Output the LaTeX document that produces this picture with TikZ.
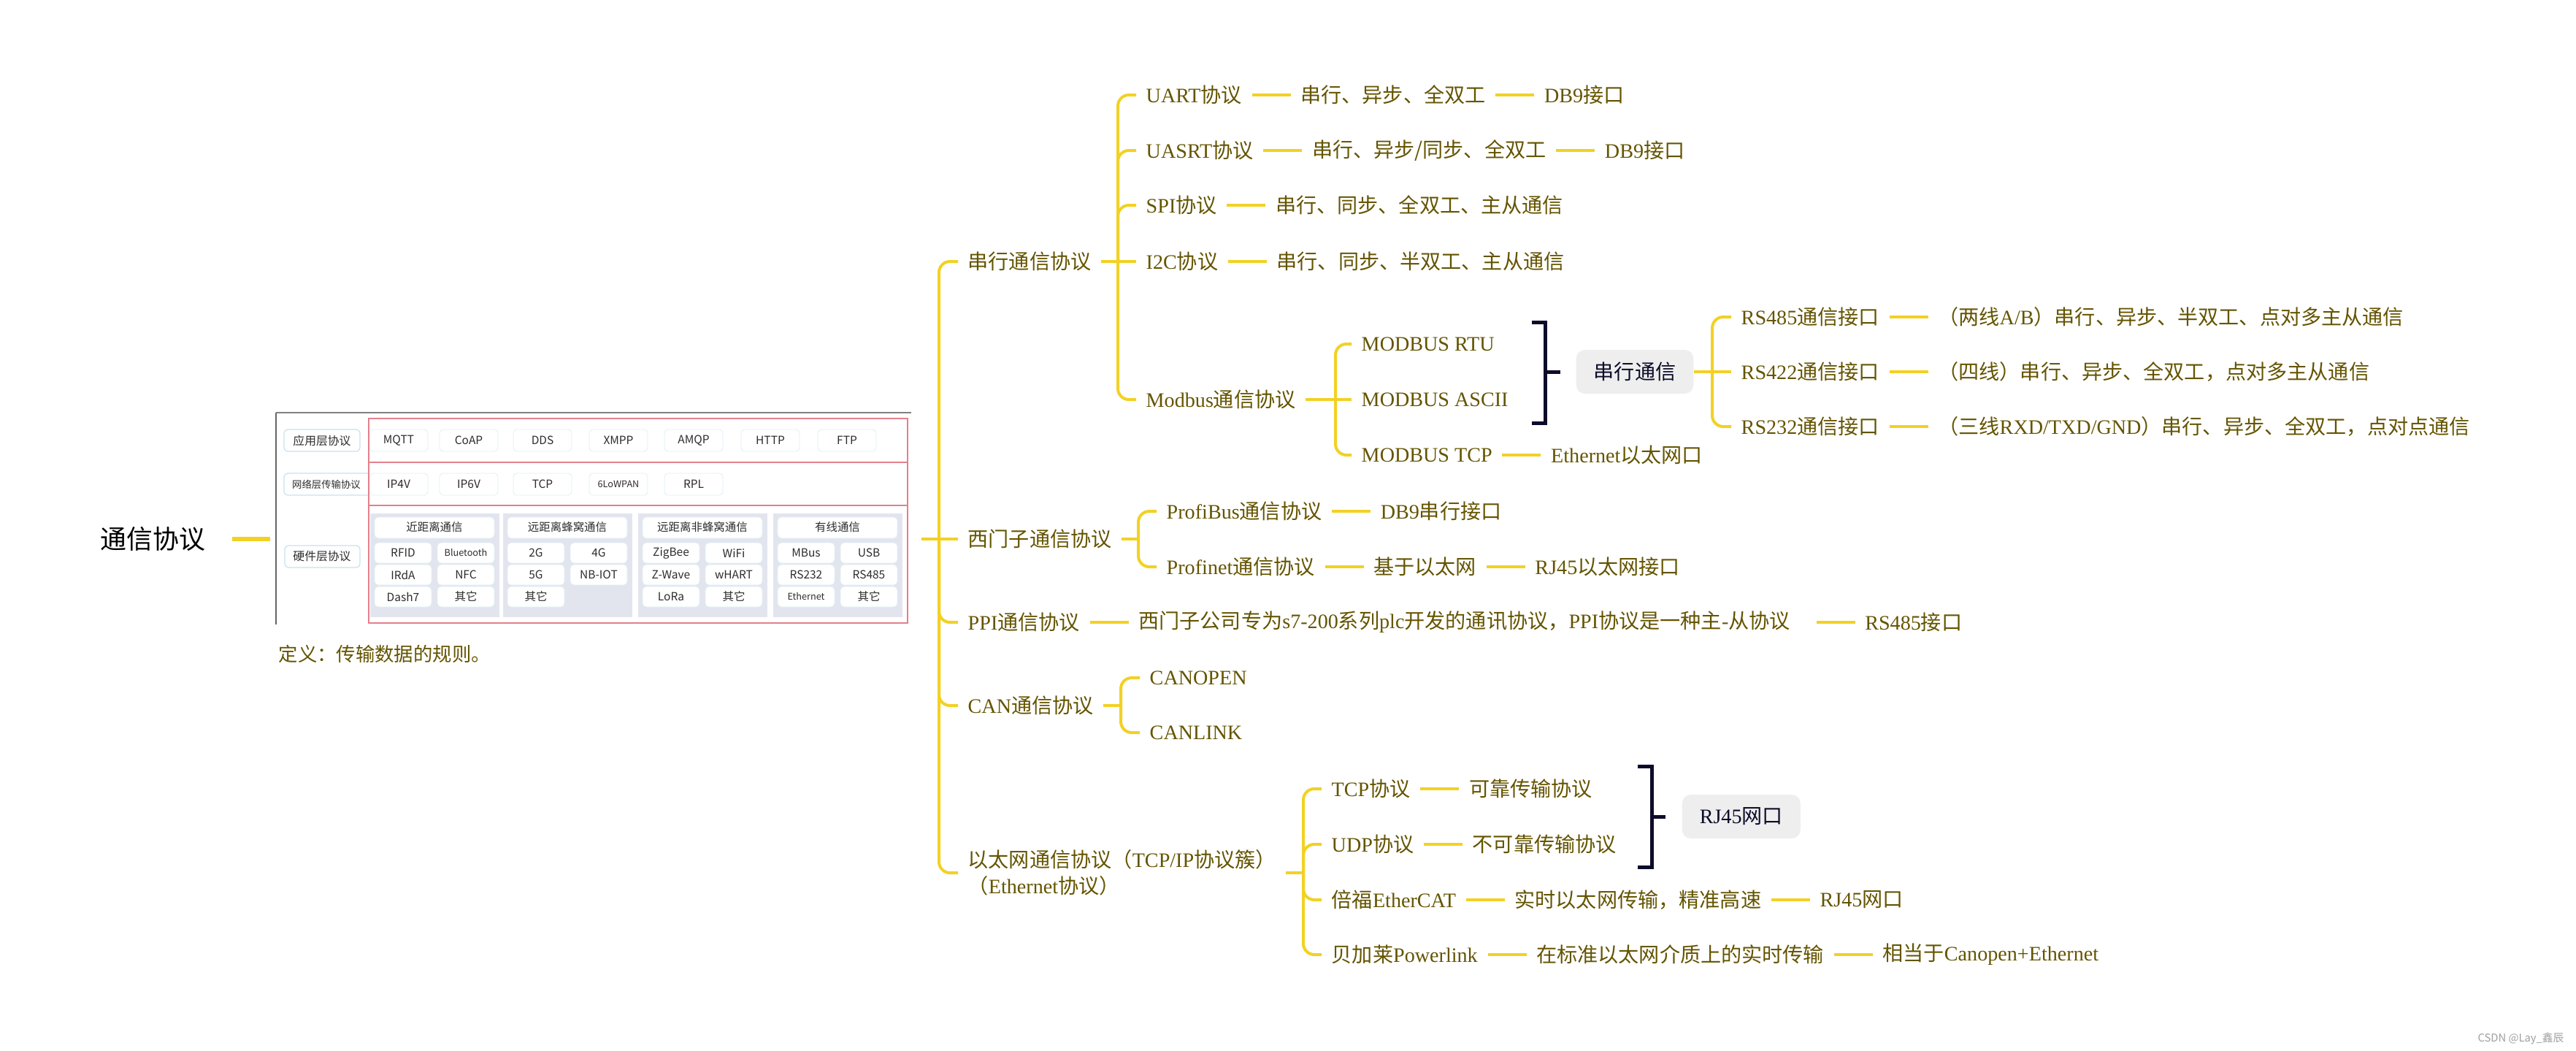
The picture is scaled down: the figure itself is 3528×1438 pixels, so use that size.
\documentclass[tikz,border=0pt]{standalone}
\usepackage{fontspec}
\setmainfont{Noto Sans CJK SC}
\newfontfamily\latfont{Liberation Serif}
\usepackage{tikz}
\usetikzlibrary{positioning}
\newcommand{\latn}[1]{{\latfont #1}}
\newcommand{\cellsmall}{\fontsize{3.6}{4.2}\selectfont}
\definecolor{mmtext}{RGB}{100,84,0}
\definecolor{mmline}{RGB}{242,209,36}
\definecolor{mmnavy}{RGB}{12,12,42}
\definecolor{mmgray}{RGB}{238,238,238}
\definecolor{picred}{RGB}{228,128,140}
\definecolor{picblue}{RGB}{200,226,236}
\definecolor{picgroup}{RGB}{227,229,238}
\definecolor{pictext}{RGB}{45,45,45}
\tikzset{
  topic/.style={anchor=west, text=mmtext, inner xsep=0.13cm, inner ysep=0.05cm, font=\fontsize{8}{9.6}\selectfont},
  roottopic/.style={anchor=west, text=black, inner xsep=0.13cm, font=\fontsize{10.2}{12}\selectfont},
  sumbox/.style={anchor=west, fill=mmgray, text=mmnavy, rounded corners=0.12cm, inner xsep=0.24cm, minimum height=0.6cm, font=\fontsize{8}{9.6}\selectfont},
  branch/.style={draw=mmline, line width=0.04cm, rounded corners=0.15cm},
  rootline/.style={draw=mmline, line width=0.06cm},
  bracket/.style={draw=mmnavy, line width=0.05cm},
  layerbox/.style={draw=picblue, fill=white, rounded corners=0.05cm, line width=0.012cm},
  cellbox/.style={draw=picblue!60, fill=white, rounded corners=0.05cm, line width=0.008cm},
  celltext/.style={text=pictext, inner sep=0, font=\fontsize{4.4}{5.2}\selectfont}
}

\begin{document}
\begin{tikzpicture}[x=0.01cm, y=-0.01cm]
  \useasboundingbox (0,0) rectangle (3528,1438);

  % root and the picture topic
  \node[roottopic] (root) at (124,738) {通信协议};
  \node[inner sep=0, minimum width=8.67cm, minimum height=3.46cm] (img) at (811.5,738) {};
  \draw[rootline, shorten <=0.23cm, shorten >=0.07cm] (root) -- (img);
  \node[topic, font=\fontsize{7.5}{9}\selectfont] (defn) at (368,895) {定义：传输数据的规则。};

  % the layer screenshot
  \draw[gray!80!black, line width=0.02cm] (378,855) -- (378,565);
  \draw[gray, line width=0.012cm] (378,565) -- (1248,565);
  \draw[layerbox] (389,588) rectangle (493,618);
  \node[celltext, font=\fontsize{4.5}{5.2}\selectfont] at (441,603) {应用层协议};
  \draw[layerbox] (389,648) rectangle (512,678);
  \node[celltext, font=\fontsize{3.8}{4.5}\selectfont] at (447,663) {网络层传输协议};
  \draw[layerbox] (390,747) rectangle (493,777);
  \node[celltext, font=\fontsize{4.5}{5.2}\selectfont] at (441,762) {硬件层协议};
  \fill[white] (505,573) rectangle (1243,853);
  \foreach \x/\txt in {506/MQTT,602/CoAP,703/DDS,807/XMPP,910/AMQP,1015/HTTP,1120/FTP}{
    \draw[cellbox] (\x,588) rectangle ++(80,30);
    \node[celltext] at (\x+40,603) {\txt};
  }
  \foreach \x/\txt in {506/IP4V,602/IP6V,703/TCP,807/{\cellsmall 6LoWPAN},910/RPL}{
    \draw[cellbox] (\x,648) rectangle ++(80,30);
    \node[celltext] at (\x+40,663) {\txt};
  }
  \foreach \gx/\ttl in {507/近距离通信,689/远距离蜂窝通信,874/远距离非蜂窝通信,1059/有线通信}{
    \fill[picgroup] (\gx,703) rectangle ++(177,142);
    \draw[cellbox] (\gx+6,708) rectangle ++(164,29);
    \node[celltext] at (\gx+88,722) {\ttl};
  }
  \foreach \gx/\rw/\cl/\txt in {507/0/0/RFID,507/0/1/{\cellsmall Bluetooth},507/1/0/IRdA,507/1/1/NFC,507/2/0/Dash7,507/2/1/其它,
      689/0/0/2G,689/0/1/4G,689/1/0/5G,689/1/1/NB-IOT,689/2/0/其它,
      874/0/0/ZigBee,874/0/1/WiFi,874/1/0/Z-Wave,874/1/1/wHART,874/2/0/LoRa,874/2/1/其它,
      1059/0/0/MBus,1059/0/1/USB,1059/1/0/RS232,1059/1/1/RS485,1059/2/0/{\cellsmall Ethernet},1059/2/1/其它}{
    \draw[cellbox] (\gx+6+86*\cl,743+30*\rw) rectangle ++(78,28);
    \node[celltext] at (\gx+45+86*\cl,757+30*\rw) {\txt};
  }
  \draw[picred, line width=0.012cm] (505,573) rectangle (1243,853);
  \draw[picred, line width=0.012cm] (505,633) -- (1243,633) (505,692) -- (1243,692);

  % main branches
  \coordinate (jmain) at (1286,738);
  \draw[branch, shorten <=0.16cm] (img) -- (jmain);
  \node[topic] (serial) at (1312,358) {串行通信协议};
  \node[topic] (siemens) at (1312,738) {西门子通信协议};
  \node[topic] (ppi) at (1312,852) {\latn{PPI}通信协议};
  \node[topic] (can) at (1312,966) {\latn{CAN}通信协议};
  \node[topic, align=left, font=\fontsize{8}{10.2}\selectfont] (ether) at (1312,1195) {以太网通信协议（\latn{TCP/IP}协议簇）\\（\latn{Ethernet}协议）};
  \draw[branch] (jmain) -- (siemens);
  \foreach \n in {serial,ppi,can,ether}
    \draw[branch] (jmain) |- (\n.west);

  % serial protocols
  \coordinate (jserial) at (1531,358);
  \draw[branch] (serial) -- (jserial);
  \node[topic] (uart) at (1556,130) {\latn{UART}协议};
  \node[topic] (usart) at (1556,206) {\latn{UASRT}协议};
  \node[topic] (spi) at (1556,281) {\latn{SPI}协议};
  \node[topic] (iic) at (1556,358) {\latn{I2C}协议};
  \node[topic] (modbus) at (1556,547) {\latn{Modbus}通信协议};
  \draw[branch] (jserial) -- (iic);
  \foreach \n in {uart,usart,spi,modbus}
    \draw[branch] (jserial) |- (\n.west);
  \node[topic, right=0.53cm of uart] (uartf) {串行、异步、全双工};
  \node[topic, right=0.53cm of uartf] (uartp) {\latn{DB9}接口};
  \node[topic, right=0.53cm of usart] (usartf) {串行、异步/同步、全双工};
  \node[topic, right=0.53cm of usartf] (usartp) {\latn{DB9}接口};
  \node[topic, right=0.53cm of spi] (spif) {串行、同步、全双工、主从通信};
  \node[topic, right=0.53cm of iic] (iicf) {串行、同步、半双工、主从通信};
  \draw[branch] (uart) -- (uartf) (uartf) -- (uartp);
  \draw[branch] (usart) -- (usartf) (usartf) -- (usartp);
  \draw[branch] (spi) -- (spif);
  \draw[branch] (iic) -- (iicf);

  % modbus
  \coordinate (jmodbus) at (1829,547);
  \draw[branch] (modbus) -- (jmodbus);
  \node[topic] (rtu) at (1851,471) {\latn{MODBUS RTU}};
  \node[topic] (ascii) at (1851,547) {\latn{MODBUS ASCII}};
  \node[topic] (mtcp) at (1851,623) {\latn{MODBUS TCP}};
  \draw[branch] (jmodbus) -- (ascii);
  \draw[branch] (jmodbus) |- (rtu.west);
  \draw[branch] (jmodbus) |- (mtcp.west);
  \node[topic, right=0.53cm of mtcp] (mtcpp) {\latn{Ethernet}以太网口};
  \draw[branch] (mtcp) -- (mtcpp);
  \draw[bracket] (2098,441) -- (2116,441) -- (2116,579) -- (2098,579);
  \draw[bracket] (2116,509) -- (2137,509);
  \node[sumbox] (serbox) at (2158,509) {串行通信};
  \coordinate (jserbox) at (2345,509);
  \draw[branch] (serbox) -- (jserbox);
  \node[topic] (rs485) at (2371,434) {\latn{RS485}通信接口};
  \node[topic] (rs422) at (2371,509) {\latn{RS422}通信接口};
  \node[topic] (rs232) at (2371,584) {\latn{RS232}通信接口};
  \draw[branch] (jserbox) -- (rs422);
  \draw[branch] (jserbox) |- (rs485.west);
  \draw[branch] (jserbox) |- (rs232.west);
  \node[topic, right=0.53cm of rs485] (rs485f) {（两线\latn{A/B}）串行、异步、半双工、点对多主从通信};
  \node[topic, right=0.53cm of rs422] (rs422f) {（四线）串行、异步、全双工，点对多主从通信};
  \node[topic, right=0.53cm of rs232] (rs232f) {（三线\latn{RXD/TXD/GND}）串行、异步、全双工，点对点通信};
  \draw[branch] (rs485) -- (rs485f);
  \draw[branch] (rs422) -- (rs422f);
  \draw[branch] (rs232) -- (rs232f);

  % siemens
  \coordinate (jsiemens) at (1559,738);
  \draw[branch] (siemens) -- (jsiemens);
  \node[topic] (pbus) at (1584,700) {\latn{ProfiBus}通信协议};
  \node[topic] (pnet) at (1584,776) {\latn{Profinet}通信协议};
  \draw[branch] (jsiemens) |- (pbus.west);
  \draw[branch] (jsiemens) |- (pnet.west);
  \node[topic, right=0.53cm of pbus] (pbusp) {\latn{DB9}串行接口};
  \node[topic, right=0.53cm of pnet] (pnetf) {基于以太网};
  \node[topic, right=0.53cm of pnetf] (pnetp) {\latn{RJ45}以太网接口};
  \draw[branch] (pbus) -- (pbusp);
  \draw[branch] (pnet) -- (pnetf) (pnetf) -- (pnetp);

  % ppi
  \node[topic, right=0.53cm of ppi] (ppif) {西门子公司专为\latn{s7-200}系列\latn{plc}开发的通讯协议，\latn{PPI}协议是一种主\latn{-}从协议\hspace*{0.22cm}};
  \node[topic, right=0.53cm of ppif] (ppip) {\latn{RS485}接口};
  \draw[branch] (ppi) -- (ppif) (ppif) -- (ppip);

  % can
  \coordinate (jcan) at (1535,966);
  \draw[branch] (can) -- (jcan);
  \node[topic] (canopen) at (1561,928) {\latn{CANOPEN}};
  \node[topic] (canlink) at (1561,1003) {\latn{CANLINK}};
  \draw[branch] (jcan) |- (canopen.west);
  \draw[branch] (jcan) |- (canlink.west);

  % ethernet
  \coordinate (jether) at (1785,1195);
  \draw[branch] (ether) -- (jether);
  \node[topic] (tcp) at (1810,1080) {\latn{TCP}协议};
  \node[topic] (udp) at (1810,1156) {\latn{UDP}协议};
  \node[topic] (ecat) at (1810,1232) {倍福\latn{EtherCAT}};
  \node[topic] (plink) at (1810,1307) {贝加莱\latn{Powerlink}};
  \foreach \n in {tcp,udp,ecat,plink}
    \draw[branch] (jether) |- (\n.west);
  \node[topic, right=0.53cm of tcp] (tcpf) {可靠传输协议};
  \node[topic, right=0.53cm of udp] (udpf) {不可靠传输协议};
  \node[topic, right=0.53cm of ecat] (ecatf) {实时以太网传输，精准高速};
  \node[topic, right=0.53cm of ecatf] (ecatp) {\latn{RJ45}网口};
  \node[topic, right=0.53cm of plink] (plinkf) {在标准以太网介质上的实时传输};
  \node[topic, right=0.53cm of plinkf] (plinkp) {相当于\latn{Canopen+Ethernet}};
  \draw[branch] (tcp) -- (tcpf);
  \draw[branch] (udp) -- (udpf);
  \draw[branch] (ecat) -- (ecatf) (ecatf) -- (ecatp);
  \draw[branch] (plink) -- (plinkf) (plinkf) -- (plinkp);
  \draw[bracket] (2243,1049) -- (2262,1049) -- (2262,1187) -- (2243,1187);
  \draw[bracket] (2262,1118) -- (2281,1118);
  \node[sumbox] (rjbox) at (2303,1118) {\latn{RJ45}网口};

  \node[anchor=east, inner sep=0, text=gray!75, font=\fontsize{4.2}{5}\selectfont] (wmark) at (3512,1422) {CSDN @Lay\_鑫辰};
\end{tikzpicture}
\end{document}
